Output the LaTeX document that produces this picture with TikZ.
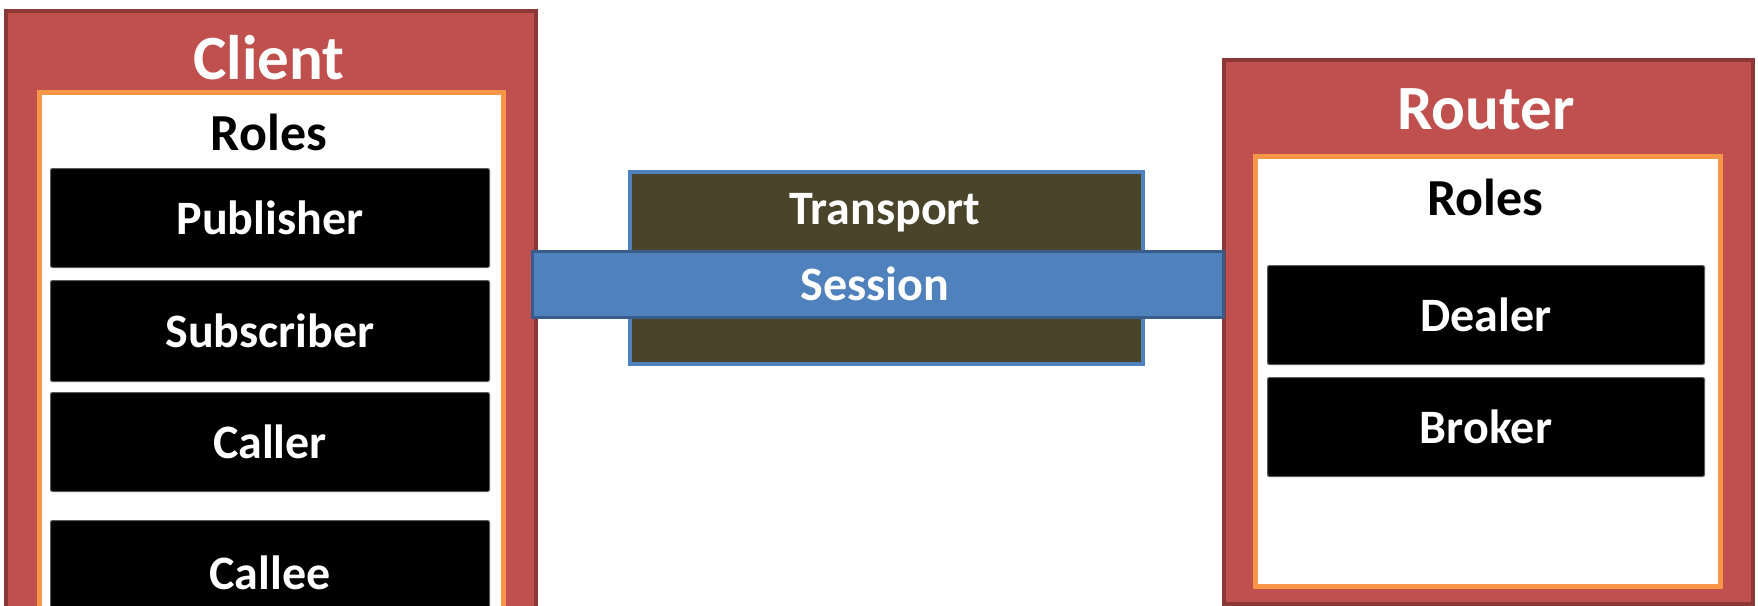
\documentclass[tikz,border=0pt]{standalone}
\usepackage{fontspec}
\setmainfont{Carlito}
\definecolor{redfill}{HTML}{C0504D}
\definecolor{redline}{HTML}{8C3836}
\definecolor{orangeline}{HTML}{F79646}
\definecolor{olivefill}{HTML}{4A452A}
\definecolor{blueone}{HTML}{4F81BD}
\definecolor{bluetwo}{HTML}{385D8A}
\tikzset{
  outerbox/.style={draw=redline, fill=redfill, line width=4pt, anchor=north west, inner sep=0pt},
  rolesbox/.style={draw=orangeline, fill=white, line width=4.5pt, anchor=north west, inner sep=0pt},
  rolebox/.style={draw=black!65, fill=black, rounded corners=2pt, line width=1pt, text=white,
    font=\bfseries\fontsize{48}{48}\selectfont, anchor=north west, inner sep=0pt,
    minimum width=439pt, minimum height=99pt},
  titletext/.style={text=white, font=\bfseries\fontsize{63}{63}\selectfont, inner sep=0pt},
  rolestext/.style={text=black, font=\bfseries\fontsize{52}{52}\selectfont, inner sep=0pt},
  transportbox/.style={draw=blueone, fill=olivefill, line width=4pt, anchor=north west, inner sep=0pt},
  sessionbox/.style={draw=bluetwo, fill=blueone, line width=3pt, anchor=north west, inner sep=0pt},
  bandtext/.style={text=white, font=\bfseries\fontsize{48}{48}\selectfont, inner sep=0pt}
}
\begin{document}
\begin{tikzpicture}[x=1pt, y=-1pt]
\useasboundingbox (0,0) rectangle (1758,605);
\clip (0,0) rectangle (1758,605);
% Client
\node[outerbox, minimum width=530pt, minimum height=650pt] (client) at (4,9) {};
\node[titletext] (clienttitle) at (269,58) {Client};
\node[rolesbox, minimum width=464pt, minimum height=620pt] (croles) at (37,90) {};
\node[rolestext] (crolestitle) at (269,132) {Roles};
\node[rolebox] (publisher) at (50,168) {Publisher};
\node[rolebox, minimum height=101pt] (subscriber) at (50,280) {Subscriber};
\node[rolebox] (caller) at (50,392) {Caller};
\node[rolebox, minimum height=104pt] (callee) at (50,520) {Callee};
% Router
\node[outerbox, minimum width=529pt, minimum height=544pt] (router) at (1222,58) {};
\node[titletext] (routertitle) at (1486,109) {Router};
\node[rolesbox, minimum width=465pt, minimum height=430pt] (rroles) at (1253,154) {};
\node[rolestext] (rrolestitle) at (1485,197) {Roles};
\node[rolebox, minimum width=437pt] (dealer) at (1267,265) {Dealer};
\node[rolebox, minimum width=437pt] (broker) at (1267,377) {Broker};
% Transport and session
\node[transportbox, minimum width=513pt, minimum height=192pt] (transport) at (628,170) {};
\node[bandtext] (transporttext) at (885,213) {Transport};
\node[sessionbox, minimum width=691pt, minimum height=66pt] (session) at (531,250) {};
\node[bandtext] (sessiontext) at (875,284) {Session};
\end{tikzpicture}
\end{document}
